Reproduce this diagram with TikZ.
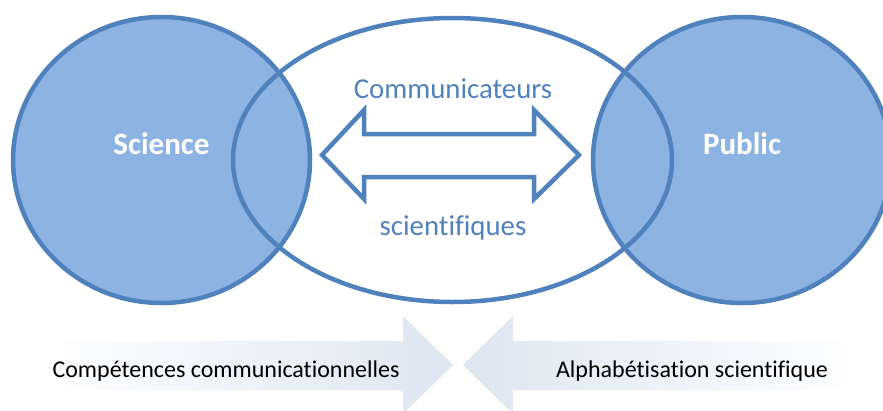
\documentclass[tikz,border=0pt]{standalone}
\usepackage{fontspec}
\setmainfont{Carlito}[Ligatures=NoCommon]
\usetikzlibrary{calc}
\definecolor{vennline}{HTML}{4F81BD}
\definecolor{vennfill}{HTML}{8DB3E2}
\definecolor{flowfill}{HTML}{DCE6F2}
\tikzset{
  ring/.style={draw=vennline, line width=4.5pt},
  bigword/.style={text=white, anchor=base, font=\fontsize{31}{36}\selectfont\bfseries},
  midword/.style={text=vennline, anchor=base, font=\fontsize{28.8}{34}\selectfont},
  lowword/.style={text=black, anchor=base, font=\fontsize{24}{28}\selectfont},
}

\begin{document}
\begin{tikzpicture}[x=1pt, y=-1pt]
			%%%%% START %%%%%
			\useasboundingbox (0,0) rectangle (883,410);
			
			\shade[left color=white, right color=flowfill] (40,341) -- (403,341) -- (403,316) -- (453,365) -- (403,414) -- (403,390) -- (40,390) -- cycle;
			\shade[left color=flowfill, right color=white] (866,341) -- (513,341) -- (513,316) -- (463,365) -- (513,414) -- (513,390) -- (866,390) -- cycle;
			
			\fill[vennfill] (161.5,160) ellipse (148.5 and 143);
			\fill[vennfill] (742,160) ellipse (149 and 143);
			
			\draw[ring] (452.5,160) ellipse (219.5 and 142);
			\draw[ring] (161.5,160) ellipse (148.5 and 143);
			\draw[ring] (742,160) ellipse (149 and 143);
			
			\draw[ring, line join=miter] (322,155) -- (364,110) -- (364,134) -- (534,134) -- (534,110) -- (579,155) -- (534,199) -- (534,177) -- (364,177) -- (364,199) -- cycle;
			
			\node[bigword] (science) at (161.5,154) {Science};
			\node[bigword] (public) at (742,154) {Public};
			\node[midword] (comm) at (453,98) {Communicateurs};
			\node[midword] (scient) at (453,235) {scientifiques};
			
			\node[lowword] (skills) at (226,377) {Compétences communicationnelles};
			\node[lowword] (literacy) at (692,377) {Alphabétisation scientifique};
			%%%%% END %%%%%
\end{tikzpicture}
\end{document}
